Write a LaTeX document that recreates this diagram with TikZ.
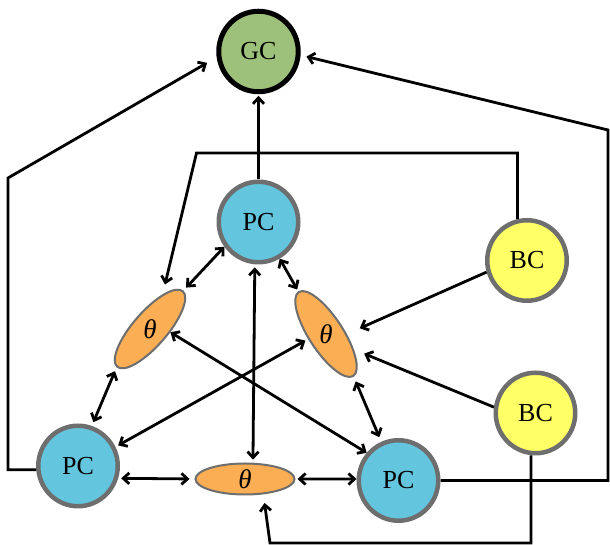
\documentclass[tikz,border=0pt]{standalone}
\usepackage{fontspec}
\setmainfont{Liberation Serif}
\usetikzlibrary{arrows.meta,shapes.geometric}
\definecolor{pcfill}{RGB}{99,197,222}
\definecolor{bcfill}{RGB}{255,255,102}
\definecolor{gcfill}{RGB}{157,192,122}
\definecolor{thfill}{RGB}{251,174,84}
\definecolor{nodegray}{RGB}{110,110,110}
\begin{document}
\begin{tikzpicture}[x=1pt,y=1pt,
  cell/.style={ellipse, draw=nodegray, line width=4.5pt, minimum width=79.5pt, minimum height=80.5pt, inner sep=0pt, font=\fontsize{26}{30}\selectfont},
  pc/.style={cell, fill=pcfill},
  bc/.style={cell, fill=bcfill},
  gc/.style={cell, fill=gcfill, draw=black, line width=5pt},
  par/.style={ellipse, draw=nodegray, line width=2pt, fill=thfill, inner sep=0pt, minimum width=100pt, minimum height=34pt},
  lab/.style={inner sep=0pt, font=\fontsize{27}{30}\selectfont\itshape},
  conn/.style={line width=2.8pt, -{Straight Barb[length=6pt,width=11pt]}},
  bi/.style={conn, {Straight Barb[length=6pt,width=11pt]}-{Straight Barb[length=6pt,width=11pt]}},
]
\useasboundingbox (0,0) rectangle (610,545);
% nodes
\node[gc] (GC) at (258.5,493.5) {GC};
\node[pc] (PCt) at (258.5,323) {PC};
\node[pc] (PCl) at (78,79) {PC};
\node[pc] (PCr) at (398.5,64.5) {PC};
\node[bc] (BC1) at (527,284.5) {BC};
\node[bc] (BC2) at (535.5,132) {BC};
\node[par, rotate=49] (thL) at (150,216) {};
\node[par, rotate=-57] (thR) at (326,211) {};
\node[par, minimum width=99pt, minimum height=31pt] (thB) at (245,66) {};
\node[lab] (tLl) at (thL.center) {θ};
\node[lab] (tRl) at (thR.center) {θ};
\node[lab] (tBl) at (thB.center) {θ};
% corner coordinates
\coordinate (cL) at (8,367);
\coordinate (cR) at (608,415);
\coordinate (cT) at (196.5,392);
\coordinate (cBot) at (270,2);
% connectors
\draw[conn, shorten >=1.5pt] (PCt.north) -- (GC.south);
\draw[conn, shorten >=11pt] (PCl.185) -| (cL) -- (GC.188);
\draw[conn, shorten >=6pt] (PCr.east) -| (cR) -- (GC.-5);
\draw[conn, shorten >=10pt] (BC1.103) |- (cT) -- (thL.21);
\draw[bi, shorten >=4pt] (PCt.216) -- (thL.0);
\draw[bi, shorten >=2pt] (PCt.-60) -- (thR.180);
\draw[bi, shorten <=3pt, shorten >=3pt] (PCt.265) -- (thB.64);
\draw[conn, shorten >=14pt] (BC1.196) -- (thR.57);
\draw[conn, shorten >=11pt] (BC2.172) -- (thR.28);
\draw[bi] (thL.-58) -- (PCr.139);
\draw[bi, shorten <=3pt, shorten >=3pt] (thR.253) -- (PCl.27);
\draw[bi, shorten <=4pt, shorten >=4pt] (thL.180) -- (PCl.71);
\draw[bi, shorten <=5pt, shorten >=5pt] (thR.0) -- (PCr.114);
\draw[bi, shorten <=3pt, shorten >=5pt] (PCl.-17) -- (thB.180);
\draw[bi, shorten <=2pt] (thB.0) -- (PCr.178);
\draw[conn, shorten >=8.7pt] (BC2.264) |- (cBot) -- (thB.-40);
\end{tikzpicture}
\end{document}
